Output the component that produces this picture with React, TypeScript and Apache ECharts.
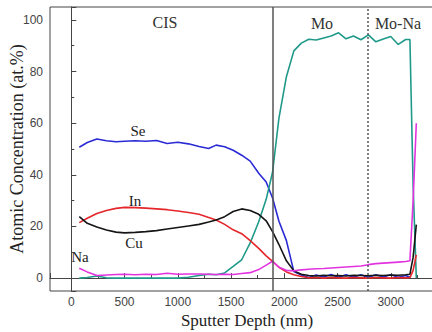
import React, { useEffect, useRef } from "react";
import * as echarts from "echarts";

const depth = [75, 150, 240, 330, 420, 500, 600, 700, 800, 900, 1000, 1100, 1200, 1290, 1360, 1440, 1520, 1600, 1680, 1760, 1830, 1890, 1950, 2020, 2090, 2160, 2230, 2300, 2370, 2440, 2510, 2580, 2650, 2720, 2790, 2860, 2930, 3000, 3070, 3140, 3180, 3210, 3240];

const se = [50.7, 52.5, 53.9, 53.2, 52.8, 53.0, 53.2, 53.0, 53.3, 52.1, 52.6, 52.0, 51.0, 50.2, 51.5, 50.9, 49.5, 47.6, 45.3, 40.6, 37.2, 31.0, 22.0, 14.5, 2.5, 1.2, 0.2, 1.2, 0.4, 1.4, 0.3, 1.3, 0.4, 1.3, 0.3, 1.3, 0.4, 1.3, 0.3, 1.0, 0.3, null, null];

const mo = [0, 0.2, 0.8, 0.1, 0, 0, 0, 0, 0, 0, 0, 0.3, 1.0, 1.5, 1.3, 2.0, 4.5, 7.1, 13.6, 21.8, 30.5, 41.0, 62.0, 78.0, 88.0, 91.0, 92.5, 92.2, 93.0, 93.8, 95.0, 92.7, 93.8, 92.3, 94.2, 91.5, 92.6, 93.6, 90.5, 92.4, 92.4, 36.0, 0];

const inn = [21.5, 23.2, 25.0, 26.2, 27.0, 27.4, 27.3, 27.1, 26.8, 26.5, 26.0, 25.4, 24.7, 23.5, 22.5, 20.8, 18.7, 17.2, 14.5, 11.5, 8.6, 6.5, 4.2, 2.4, 1.3, 0.6, 0.1, 0.2, 0.0, 0.2, 0.1, 0.0, 0.2, 0.1, 0.0, 0.2, 0.1, 0.0, 0.2, 0.1, 0.2, 3.0, 9.0];

const cu = [23.8, 21.2, 19.8, 18.6, 17.8, 17.5, 17.7, 18.0, 18.4, 19.0, 19.6, 20.2, 20.8, 21.7, 22.5, 23.8, 25.8, 26.8, 26.2, 24.7, 22.2, 18.0, 13.0, 6.7, 2.8, 1.5, 1.0, 0.8, 1.1, 0.9, 1.0, 0.8, 1.1, 1.0, 0.9, 1.1, 1.0, 1.2, 1.1, 1.3, 1.5, 8.0, 20.7];

const na = [3.8, 2.4, 1.0, 1.2, 1.4, 1.5, 1.3, 1.5, 1.4, 1.9, 1.5, 1.6, 1.6, 1.5, 1.4, 1.5, 1.4, 1.8, 2.1, 3.3, 5.0, 6.5, 4.2, 3.0, 2.8, 3.2, 3.4, 3.6, 3.7, 3.9, 4.1, 4.3, 4.5, 4.7, 5.2, 5.6, 5.8, 6.0, 6.2, 6.4, 6.7, 30.0, 60.0];

const boundaries = [1890, 2780];

const regionLabels = ["CIS", "Mo", "Mo-Na"];
const elementLabels = ["Se", "In", "Cu", "Na"];

const pair = (ys: (number | null)[]) => depth.map((d, i) => [d, ys[i]]);

export default function App() {
  const ref = useRef<HTMLDivElement>(null);
  useEffect(() => {
    if (!ref.current) return;
    const chart = echarts.init(ref.current, undefined, { renderer: "svg" });
    const serif = "'Liberation Serif', 'Times New Roman', serif";
    const sans = "'Liberation Sans', Arial, sans-serif";
    const lw = 1.6;
    const mk = (name: string, ys: (number | null)[], color: string, extra: any = {}) => ({
      name,
      type: "line",
      data: pair(ys),
      showSymbol: false,
      symbol: "none",
      connectNulls: false,
      lineStyle: { color, width: lw },
      itemStyle: { color },
      z: 3,
      ...extra,
    });
    chart.setOption({
      animation: false,
      backgroundColor: "#fff",
      grid: {
        left: 50,
        top: 7,
        bottom: 41,
        right: -12,
        containLabel: false,
        outerBoundsMode: "none",
        show: true,
        borderColor: "#444",
        borderWidth: 1,
      },
      xAxis: {
        type: "value",
        min: -200,
        max: 3500,
        splitNumber: 7,
        name: "Sputter Depth (nm)",
        nameLocation: "middle",
        nameGap: 21,
        nameMoveOverlap: false,
        nameTextStyle: { fontFamily: serif, fontSize: 17, color: "#222", lineHeight: 17 },
        axisLine: { lineStyle: { color: "#444", width: 1 } },
        axisTick: { inside: true, length: 5, lineStyle: { color: "#444" } },
        minorTick: { show: true, splitNumber: 2, length: 3, lineStyle: { color: "#444" } },
        splitLine: { show: false },
        axisLabel: {
          fontFamily: sans,
          fontSize: 12,
          color: "#444",
          margin: 5,
          formatter: (v: number) => (v < 0 || v > 3000 ? "" : String(v)),
        },
      },
      yAxis: {
        type: "value",
        min: -5,
        max: 105,
        splitNumber: 5,
        name: "Atomic Concentration (at.%)",
        nameLocation: "middle",
        nameGap: 24,
        nameMoveOverlap: false,
        nameTextStyle: { fontFamily: serif, fontSize: 18, color: "#222" },
        axisLine: { show: true, lineStyle: { color: "#444", width: 1 } },
        axisTick: { show: true, inside: true, length: 5, lineStyle: { color: "#444" } },
        minorTick: { show: true, splitNumber: 2, length: 3, lineStyle: { color: "#444" } },
        splitLine: { show: false },
        axisLabel: {
          fontFamily: sans,
          fontSize: 12,
          color: "#444",
          margin: 7,
          formatter: (v: number) => (v < 0 || v > 100 ? "" : String(v)),
        },
      },
      series: [
        mk("Se", se, "#2b2bd6", {
          markLine: {
            silent: true,
            symbol: "none",
            label: { show: false },
            data: [
              { xAxis: boundaries[0], lineStyle: { color: "#555", width: 1.5, type: "solid" } },
              { xAxis: boundaries[1], lineStyle: { color: "#555", width: 1.5, type: [2, 2] } },
            ],
          },
        }),
        mk("Mo", mo, "#1f9a8a"),
        mk("In", inn, "#e5262a"),
        mk("Cu", cu, "#151515"),
        mk("Na", na, "#e233e0"),
      ],
      graphic: [
        { type: "text", x: 165, y: 22, style: { text: regionLabels[0], font: `16px ${serif}`, fill: "#333", align: "center", verticalAlign: "middle" } },
        { type: "text", x: 322, y: 23, style: { text: regionLabels[1], font: `16px ${serif}`, fill: "#333", align: "center", verticalAlign: "middle" } },
        { type: "text", x: 398, y: 23, style: { text: regionLabels[2], font: `16px ${serif}`, fill: "#333", align: "center", verticalAlign: "middle" } },
        { type: "text", x: 138, y: 131, style: { text: elementLabels[0], font: `15px ${serif}`, fill: "#222", align: "center", verticalAlign: "middle" } },
        { type: "text", x: 135, y: 201, style: { text: elementLabels[1], font: `15px ${serif}`, fill: "#222", align: "center", verticalAlign: "middle" } },
        { type: "text", x: 134, y: 243, style: { text: elementLabels[2], font: `15px ${serif}`, fill: "#222", align: "center", verticalAlign: "middle" } },
        { type: "text", x: 80, y: 257, style: { text: elementLabels[3], font: `15px ${serif}`, fill: "#222", align: "center", verticalAlign: "middle" } },
      ],
    });
    return () => chart.dispose();
  }, []);
  return <div ref={ref} style={{ position: "fixed", left: 0, top: 0, width: 432, height: 332 }} />;
}
